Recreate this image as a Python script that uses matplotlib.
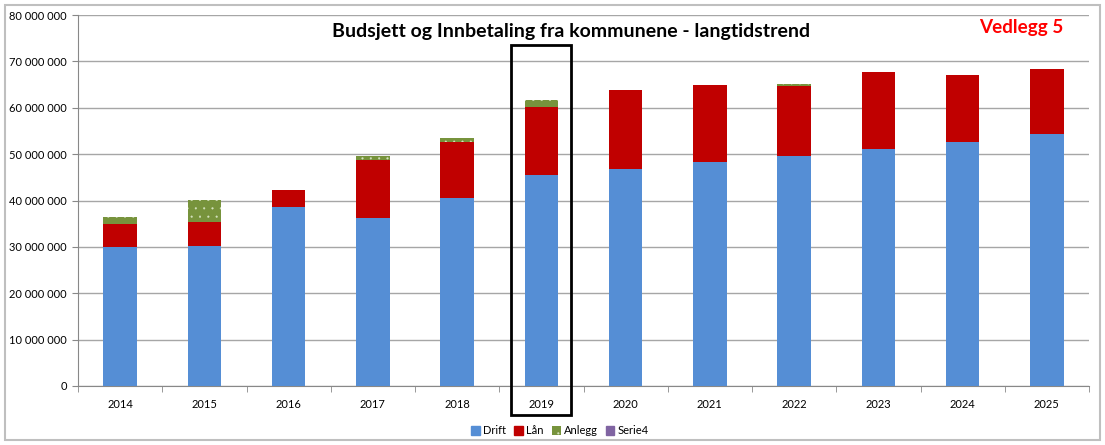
import matplotlib.pyplot as plt
from matplotlib.patches import Rectangle, Patch
from matplotlib.ticker import FuncFormatter

plt.rcParams['font.family'] = ['Lato', 'DejaVu Sans']
plt.rcParams['hatch.linewidth'] = 0.3

years = ["2014", "2015", "2016", "2017", "2018", "2019",
         "2020", "2021", "2022", "2023", "2024", "2025"]
drift = [30.0e6, 30.2e6, 38.6e6, 36.2e6, 40.5e6, 45.5e6,
         46.8e6, 48.3e6, 49.6e6, 51.1e6, 52.6e6, 54.3e6]
laan = [4.9e6, 5.1e6, 3.6e6, 12.5e6, 12.1e6, 14.6e6,
        17.0e6, 16.6e6, 15.1e6, 16.6e6, 14.5e6, 14.0e6]
anlegg = [1.5e6, 4.8e6, 0, 0.9e6, 0.8e6, 1.5e6,
          0, 0, 0.4e6, 0, 0, 0]
serie4 = [0] * 12

c_drift = "#558ED5"
c_laan = "#C00000"
c_anlegg = "#77933C"
c_serie4 = "#8064A2"
dot = "#d5e2bf"

fig = plt.figure(figsize=(11.05, 4.45), dpi=100)
ax = fig.add_axes([78 / 1105, 1 - 386 / 445, (1089 - 78) / 1105, (386 - 15) / 445])

x = list(range(len(years)))
w = 0.40
b2 = [d + l for d, l in zip(drift, laan)]
b3 = [v + a for v, a in zip(b2, anlegg)]
ax.bar(x, drift, w, color=c_drift, zorder=3)
ax.bar(x, laan, w, bottom=drift, color=c_laan, zorder=3)
ax.bar(x, anlegg, w, bottom=b2, facecolor=c_anlegg, hatch='..', edgecolor=dot,
       linewidth=0, zorder=3)
ax.bar(x, serie4, w, bottom=b3, color=c_serie4, zorder=3)

ax.set_xlim(-0.5, len(years) - 0.5)
ax.set_ylim(0, 80e6)
ax.set_yticks([i * 10e6 for i in range(9)])
ax.yaxis.set_major_formatter(FuncFormatter(lambda v, p: f"{int(v):,}".replace(",", " ")))
ax.set_xticks(x)
ax.set_xticklabels(years)
ax.set_xticks([i - 0.5 for i in range(len(years) + 1)], minor=True)
ax.tick_params(axis='x', which='major', length=0, labelsize=8, pad=9)
ax.tick_params(axis='x', which='minor', length=4, color='#888888')
ax.tick_params(axis='y', length=4, color='#888888', labelsize=8, pad=4)
ax.grid(axis='y', color='#a6a6a6', linewidth=1, zorder=0)
for s in ['top', 'right']:
    ax.spines[s].set_visible(False)
ax.spines['left'].set_color('#888888')
ax.spines['bottom'].set_color('#888888')

# highlighted 2019 column
ax.add_patch(Rectangle((5 - 0.355, -6.25e6), 0.71, 79.75e6, fill=False,
                       edgecolor='black', linewidth=2, clip_on=False, zorder=5))

fig.text(571 / 1105, 1 - 31 / 445, "Budsjett og Innbetaling fra kommunene - langtidstrend",
         ha='center', va='center', fontsize=14, fontweight='bold')
fig.text(1021 / 1105, 1 - 28 / 445, "Vedlegg 5", ha='center', va='center',
         fontsize=13.6, fontweight='bold', color='#FF0000')

handles = [Patch(color=c_drift, label='Drift'), Patch(color=c_laan, label='Lån'),
           Patch(facecolor=c_anlegg, hatch='..', edgecolor=dot, linewidth=0, label='Anlegg'),
           Patch(color=c_serie4, label='Serie4')]
fig.legend(handles=handles, loc='center', bbox_to_anchor=(560 / 1105, 1 - 431 / 445),
           ncol=4, frameon=False, fontsize=8, handlelength=0.8, handleheight=0.8,
           handletextpad=0.3, columnspacing=0.7)

fig.add_artist(Rectangle((5 / 1105, 5 / 445), 1095 / 1105, 435 / 445, fill=False,
                         edgecolor='#bfbfbf', linewidth=1.5, transform=fig.transFigure))

fig.savefig("out.png", dpi=100)
